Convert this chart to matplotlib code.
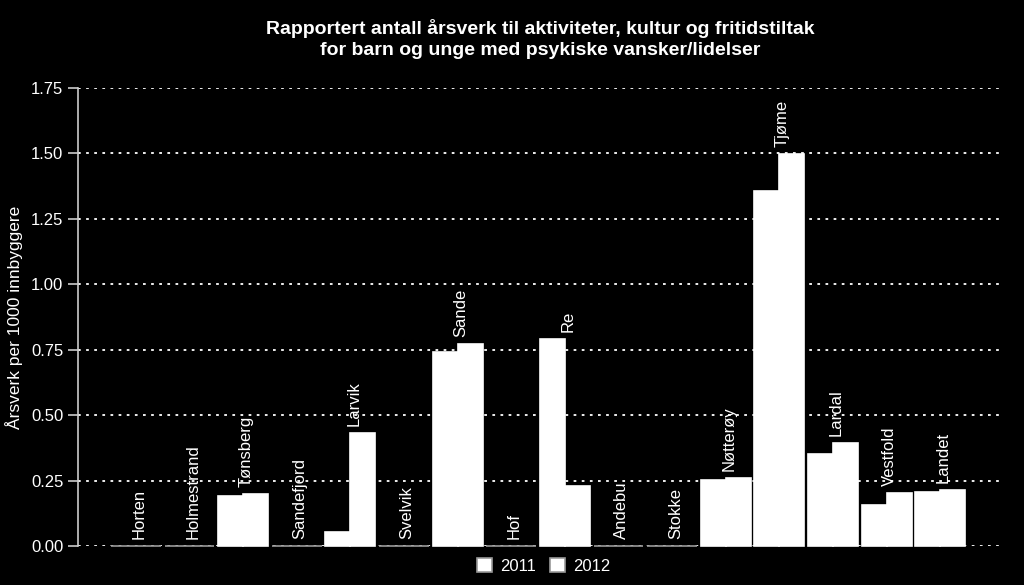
import matplotlib
matplotlib.use("Agg")
import matplotlib.pyplot as plt
import numpy as np

plt.rcParams["font.family"] = ["Liberation Sans", "DejaVu Sans"]

kommuner = ["Horten", "Holmestrand", "Tønsberg", "Sandefjord", "Larvik", "Svelvik",
            "Sande", "Hof", "Re", "Andebu", "Stokke", "Nøtterøy", "Tjøme", "Lardal",
            "Vestfold", "Landet"]
v2011 = [0, 0, 0.19, 0, 0.055, 0, 0.742, 0, 0.791, 0, 0, 0.252, 1.357, 0.350, 0.157, 0.208]
v2012 = [0, 0, 0.197, 0, 0.43, 0, 0.771, 0, 0.23, 0, 0, 0.259, 1.497, 0.392, 0.204, 0.214]
yticks = [0, 0.25, 0.5, 0.75, 1.0, 1.25, 1.5, 1.75]

fig = plt.figure(figsize=(10.24, 5.85), dpi=100, facecolor="black")
ax = fig.add_axes([0.0762, 0.0667, 0.9033, 0.7829], facecolor="black")

x = np.arange(len(kommuner))
w = 0.465
for vals, off, lab in [(v2011, -w / 2, "2011"), (v2012, w / 2, "2012")]:
    edges = ["#999999" if v == 0 else "white" for v in vals]
    bars = ax.bar(x + off, vals, width=w, color="white", edgecolor=edges, linewidth=1.2,
                  label=lab, zorder=3)
    for b in bars:
        b.set_clip_on(False)

# kommunenavn over hvert par
for xi, name, a, b in zip(x, kommuner, v2011, v2012):
    ax.annotate(name, (xi + 0.06, max(a, b)), xytext=(0, 5), textcoords="offset points",
                rotation=90, ha="center", va="bottom", color="white", fontsize=12,
                zorder=4)

ax.set_xlim(-1.08, 16.17)
ax.set_ylim(0, 1.75)
ax.set_yticks(yticks)
ax.set_yticklabels([f"{t:.2f}" for t in yticks], fontsize=12)
ax.set_xticks([])
ax.tick_params(axis="y", colors="#cccccc", length=7, width=1.2, labelcolor="white")
ax.yaxis.grid(True, color="white", linestyle=(0, (1.5, 3)), linewidth=1.3, zorder=1)
for s in ["top", "right", "bottom"]:
    ax.spines[s].set_visible(False)
ax.spines["left"].set_color("#cccccc")
ax.spines["left"].set_linewidth(1.2)

ax.set_ylabel("Årsverk per 1000 innbyggere", color="white", fontsize=12.5, labelpad=6)
ax.set_title("Rapportert antall årsverk til aktiviteter, kultur og fritidstiltak\n"
             "for barn og unge med psykiske vansker/lidelser",
             color="white", fontsize=14, fontweight="bold", pad=24, linespacing=1.25)

leg = fig.legend(loc="center", bbox_to_anchor=(0.531, 0.032), ncol=2, frameon=False,
                 fontsize=12, handlelength=0.9, handleheight=0.9, columnspacing=0.8,
                 handletextpad=0.5)
for t in leg.get_texts():
    t.set_color("white")

fig.savefig("out.png", dpi=100, facecolor="black")
